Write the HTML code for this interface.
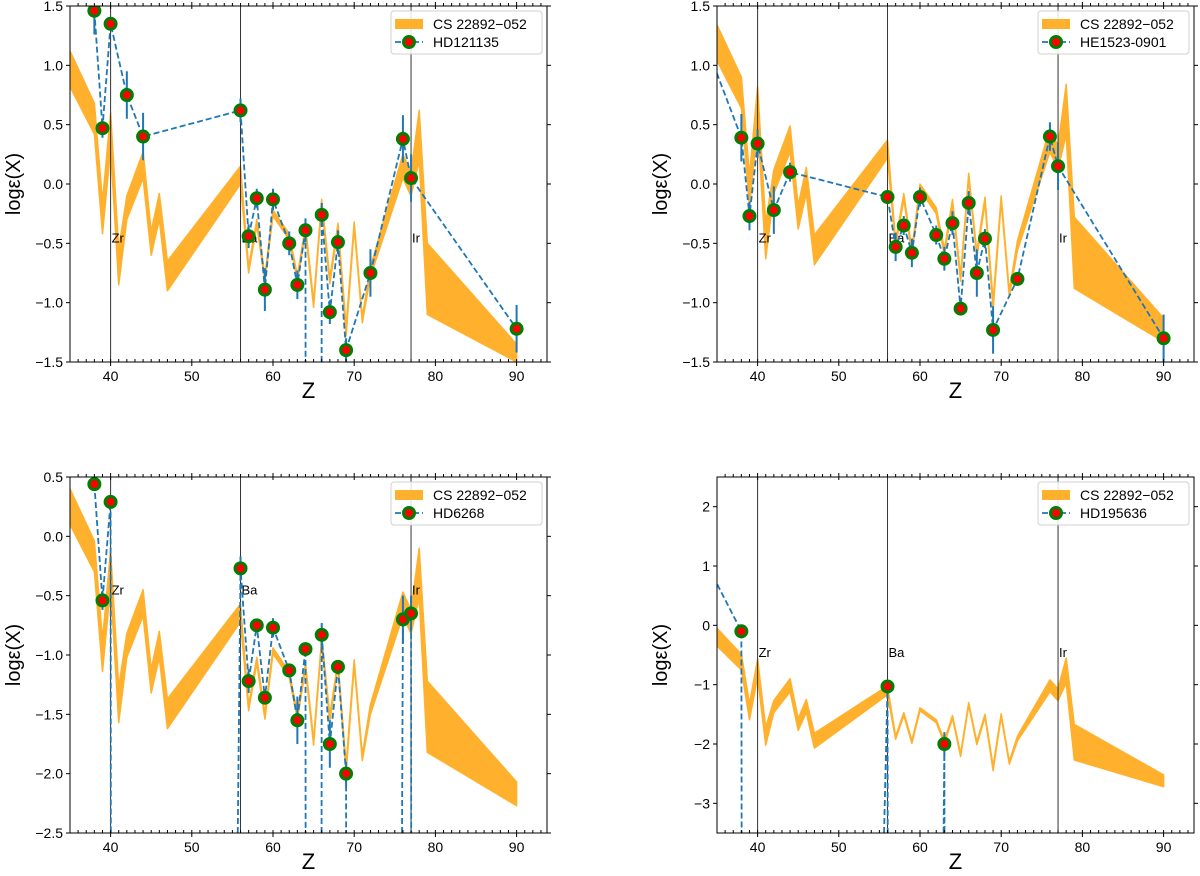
<!DOCTYPE html>
<html><head><meta charset="utf-8">
<style>
html,body{margin:0;padding:0;background:#fff;overflow:hidden;width:1200px;height:876px;}
svg{display:block;font-family:"Liberation Sans","DejaVu Sans",sans-serif;overflow:hidden;}
</style></head>
<body>
<svg id="fig" width="1200" height="876" viewBox="0 0 1200 876" xmlns="http://www.w3.org/2000/svg"></svg>
<script>
// ---- Data ----
const bandZ     = [35, 38, 39, 40, 41, 42, 44, 45, 46, 47, 56, 57, 58, 59, 60, 62, 63, 64, 65, 66, 67, 68, 69, 70, 71, 72, 76, 77, 78, 79, 90];
const bandLower = [0.82,0.42,-0.42,0.30,-0.85,-0.30,0.05,-0.60,-0.30,-0.90,0.00,-0.75,-0.35,-0.82,-0.27,-0.47,-0.82,-0.40,-1.04,-0.18,-0.84,-0.38,-1.28,-0.37,-1.17,-0.78,0.05,-0.10,0.20,-1.10,-1.55];
const bandUpper = [1.12,0.68,-0.15,0.60,-0.55,-0.10,0.27,-0.40,-0.08,-0.65,0.15,-0.70,-0.30,-0.77,-0.22,-0.42,-0.77,-0.35,-0.99,-0.13,-0.79,-0.33,-1.20,-0.32,-1.12,-0.70,0.25,0.10,0.62,-0.50,-1.35];
const bandOffsets = [0.0, 0.22, -0.72, -1.17];

const starNames = ["HD121135", "HE1523-0901", "HD6268", "HD195636"];
// -99 = no measurement (line drops off the axis)
const z1 = [38,39,40,42,44,56,57,58,59,60,62,63,64,65,66,67,68,69,72,76,77,90];
const v1 = [1.46,0.47,1.35,0.75,0.40,0.62,-0.44,-0.12,-0.89,-0.13,-0.50,-0.85,-0.39,-99,-0.26,-1.08,-0.49,-1.40,-0.75,0.38,0.05,-1.22];
const e1 = [0.2,0.08,0.05,0.2,0.2,0.1,0.1,0.08,0.18,0.09,0.1,0.12,0.1,0,0.1,0.1,0.1,0.1,0.2,0.2,0.2,0.2];
const z2 = [33,38,39,40,42,44,56,57,58,59,60,62,63,64,65,66,67,68,69,72,76,77,90];
const v2 = [1.29,0.39,-0.27,0.34,-0.22,0.10,-0.11,-0.53,-0.35,-0.58,-0.11,-0.43,-0.63,-0.33,-1.05,-0.16,-0.75,-0.46,-1.23,-0.80,0.40,0.15,-1.30];
const e2 = [0,0.2,0.12,0.12,0.2,0.08,0.05,0.12,0.08,0.12,0.08,0.08,0.1,0.1,0.05,0.1,0.2,0.08,0.2,0.05,0.12,0.2,0.2];
const z3 = [38,39,40,41,56,57,58,59,60,62,63,64,65,66,67,68,69,70,76,77,78];
const v3 = [0.44,-0.54,0.29,-99,-0.27,-1.22,-0.75,-1.36,-0.77,-1.13,-1.55,-0.95,-99,-0.83,-1.75,-1.10,-2.00,-99,-0.70,-0.65,-99];
const e3 = [0.05,0.08,0.05,0,0.1,0.1,0.05,0.05,0.08,0.05,0.2,0.05,0,0.1,0.2,0.05,0.1,0,0.2,0.15,0];
const z4 = [33,38,39,56,57,63,64];
const v4 = [1.23,-0.10,-99,-1.03,-99,-2.00,-99];
const e4 = [0,0.05,0,0.05,0,0.2,0];
const markZ = [40, 56, 77];
const markLabels = ["Zr", "Ba", "Ir"];
const xTicks = [40, 50, 60, 70, 80, 90];
const yTicksA = [-1.5,-1.0,-0.5,0.0,0.5,1.0,1.5];
const yTicksC = [-2.5,-2.0,-1.5,-1.0,-0.5,0.0,0.5];
const yTicksD = [-3,-2,-1,0,1,2];

// ---- Layout ----
const panels = [
  {left:70, top:6, ylim:[-1.5,1.5], ticks:yTicksA, dec:1, z:z1, v:v1, e:e1},
  {left:717, top:6, ylim:[-1.5,1.5], ticks:yTicksA, dec:1, z:z2, v:v2, e:e2},
  {left:70, top:477, ylim:[-2.5,0.5], ticks:yTicksC, dec:1, z:z3, v:v3, e:e3},
  {left:717, top:477, ylim:[-3.5,2.5], ticks:yTicksD, dec:0, z:z4, v:v4, e:e4}
];
const W = 477, H = 356, XMIN = 35, XMAX = 35 + 477/8.12;
const NS = "http://www.w3.org/2000/svg";
const svg = document.getElementById('fig');
function mk(tag, attrs, parent){ const el=document.createElementNS(NS,tag); for(const k in attrs) el.setAttribute(k,attrs[k]); (parent||svg).appendChild(el); return el; }
const BLUE="#1f77b4", ORANGE="#ffb12e";

panels.forEach((p, pi) => {
  const sx = z => p.left + (z - XMIN) / (XMAX - XMIN) * W;
  const sy = v => p.top + (p.ylim[1] - v) / (p.ylim[1] - p.ylim[0]) * H;
  const yb = p.ylim[0];
  const g = mk('g', {});
  
  
  const cp = mk('clipPath', {id:'clip'+pi}, g);
  mk('rect', {x:p.left, y:p.top, width:W, height:H}, cp);
  const plot = mk('g', {'clip-path':'url(#clip'+pi+')'}, g);

  const off = bandOffsets[pi];
  let d = bandZ.map((z,i)=>(i?'L':'M')+sx(z).toFixed(1)+','+sy(Math.max(yb,bandUpper[i]+off)).toFixed(1)).join('');
  for(let i=bandZ.length-1;i>=0;i--) d += 'L'+sx(bandZ[i]).toFixed(1)+','+sy(Math.max(yb,bandLower[i]+off)).toFixed(1);
  const band = mk('path', {d:d+'Z', fill:ORANGE, stroke:ORANGE, 'stroke-width':1.5, 'stroke-linejoin':'round'}, plot);
  
  

  markZ.forEach((z,i)=>{
    const ln = mk('line', {x1:sx(z), x2:sx(z), y1:p.top, y2:p.top+H, stroke:'#333', 'stroke-width':1}, plot);
    
    
    const t = mk('text', {x:sx(z)+1, y:sy(-0.45)+5, 'font-size':13, fill:'#000'}, plot);
    t.textContent = markLabels[i];
    
    
  });

  p.z.forEach((z,i)=>{
    if(p.v[i] <= -90 || !p.e[i]) return;
    const eb = mk('line', {x1:sx(z), x2:sx(z), y1:sy(Math.max(yb,p.v[i]-p.e[i])), y2:sy(p.v[i]+p.e[i]), stroke:BLUE, 'stroke-width':2}, plot);
    
    
  });
  // dashed line, segments clipped at bottom axis
  let ld = '', penAt = null;
  for(let i=0;i<p.z.length-1;i++){
    let x1=p.z[i], y1=p.v[i], x2=p.z[i+1], y2=p.v[i+1];
    if(y1<yb && y2<yb){ penAt=null; continue; }
    if(y1<yb){ x1 = x1 + (x2-x1)*(yb-y1)/(y2-y1); y1 = yb; }
    if(y2<yb){ x2 = x1 + (x2-x1)*(yb-y1)/(y2-y1); y2 = yb; }
    const a = sx(x1).toFixed(2)+','+sy(y1).toFixed(2);
    if(penAt!==a) ld += 'M'+a;
    const b = sx(x2).toFixed(2)+','+sy(y2).toFixed(2);
    ld += 'L'+b; penAt = b;
  }
  const line = mk('path', {d:ld, fill:'none', stroke:BLUE, 'stroke-width':1.8, 'stroke-dasharray':'6,3'}, plot);
  
  
  p.z.forEach((z,i)=>{
    if(p.v[i] <= -90) return;
    const c = mk('circle', {cx:sx(z), cy:sy(p.v[i]), r:5.5, fill:'red', stroke:'green', 'stroke-width':3}, plot);
    
    
  });

  const fr = mk('rect', {x:p.left, y:p.top, width:W, height:H, fill:'none', stroke:'#000', 'stroke-width':1}, g);
  
  
  for(let z=36; z<XMAX; z++){
    if(z%10===0) continue;
    mk('line', {x1:sx(z), x2:sx(z), y1:p.top+H, y2:p.top+H-3, stroke:'#000'}, g);
    mk('line', {x1:sx(z), x2:sx(z), y1:p.top, y2:p.top-3, stroke:'#000'}, g);
  }
  xTicks.forEach(z=>{
    mk('line', {x1:sx(z), x2:sx(z), y1:p.top+H-3, y2:p.top+H+4, stroke:'#000'}, g);
    mk('line', {x1:sx(z), x2:sx(z), y1:p.top+3, y2:p.top-4, stroke:'#000'}, g);
    const t = mk('text', {x:sx(z), y:p.top+H+19, 'font-size':14, 'text-anchor':'middle'}, g);
    t.textContent = z;
    
    
  });
  p.ticks.forEach(v=>{
    mk('line', {x1:p.left-4, x2:p.left, y1:sy(v), y2:sy(v), stroke:'#000'}, g);
    mk('line', {x1:p.left+W, x2:p.left+W+4, y1:sy(v), y2:sy(v), stroke:'#000'}, g);
    const t = mk('text', {x:p.left-7, y:sy(v)+5, 'font-size':14, 'text-anchor':'end'}, g);
    t.textContent = (v<0?'\u2212':'') + Math.abs(v).toFixed(p.dec);
    
    
  });
  const xl = mk('text', {x:p.left+W/2, y:p.top+H+36, 'font-size':22, 'text-anchor':'middle'}, g);
  xl.textContent = 'Z';
  
  
  const yx = p.left-50, yy = p.top+H/2;
  const yl = mk('text', {x:yx, y:yy, 'font-size':20, 'text-anchor':'middle', transform:'rotate(-90 '+yx+' '+yy+')'}, g);
  yl.textContent = 'log\u03b5(X)';
  
  

  const lg = mk('g', {}, g);
  
  
  const lx = p.left+W-156, ly = p.top+5;
  mk('rect', {x:lx, y:ly, width:151, height:43, rx:3, fill:'#fff', 'fill-opacity':0.85, stroke:'#d0d0d0'}, lg);
  mk('rect', {x:lx+4, y:ly+8, width:28, height:10, fill:ORANGE}, lg);
  const t1 = mk('text', {x:lx+42, y:ly+18, 'font-size':14}, lg);
  t1.textContent = 'CS 22892\u2212052';
  
  
  mk('line', {x1:lx+4, x2:lx+32, y1:ly+31, y2:ly+31, stroke:BLUE, 'stroke-width':1.8, 'stroke-dasharray':'6,3'}, lg);
  mk('circle', {cx:lx+18, cy:ly+31, r:5.5, fill:'red', stroke:'green', 'stroke-width':3}, lg);
  const t2 = mk('text', {x:lx+42, y:ly+36, 'font-size':14}, lg);
  t2.textContent = starNames[pi];
  
  
});
</script>
</body></html>
